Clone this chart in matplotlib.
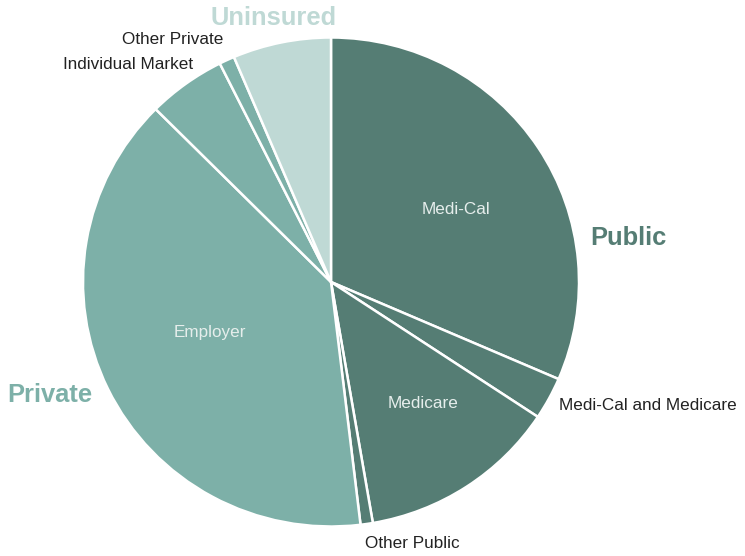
import matplotlib.pyplot as plt

# slices, clockwise from 12 o'clock
labels = ["Medi-Cal", "Medi-Cal and Medicare", "Medicare", "Other Public",
          "Employer", "Individual Market", "Other Private", "Uninsured"]
shares = [31.5, 2.8, 13.0, 0.8, 39.4, 5.1, 1.0, 6.4]
groups = ["Public", "Public", "Public", "Public",
          "Private", "Private", "Private", "Uninsured"]

group_colors = {"Public": "#557d74", "Private": "#7db0a8", "Uninsured": "#bfd9d5"}

plt.rcParams["font.family"] = ["Liberation Sans", "DejaVu Sans"]

W, H = 745, 556
fig = plt.figure(figsize=(W / 100, H / 100), dpi=100)
ax = fig.add_axes([0, 0, 1, 1])

# pie is very slightly squashed in the original
cx, cy, rx, ry = 331, 282, 248, 244.5
ax.pie(shares, colors=[group_colors[g] for g in groups], startangle=90,
       counterclock=False, radius=1, frame=True,
       wedgeprops=dict(edgecolor="white", linewidth=1.8))
ax.set_aspect("auto")
ax.set_xlim(-cx / rx, (W - cx) / rx)
ax.set_ylim(-(H - cy) / ry, cy / ry)
ax.axis("off")


def put(x, y, s, **kw):
    # x, y in pixels from the top-left corner
    fig.text(x / W, 1 - y / H, s, ha="center", va="center", **kw)


# slice labels
inside = {"Medi-Cal": (456, 209), "Employer": (210, 333), "Medicare": (423, 404)}
for name, (x, y) in inside.items():
    put(x, y, name, color="#e6eeec", fontsize=12.3)

outside = {"Medi-Cal and Medicare": (648, 405), "Other Public": (412, 544),
           "Individual Market": (128, 65), "Other Private": (173, 40)}
for name, (x, y) in outside.items():
    put(x, y, name, color="#222222", fontsize=12.3)

# group headings
heads = {"Public": (628, 238), "Private": (50, 395), "Uninsured": (274, 18)}
for name, (x, y) in heads.items():
    put(x, y, name, color=group_colors[name], fontsize=18.4, fontweight="bold")

fig.savefig("out.png", dpi=100)
